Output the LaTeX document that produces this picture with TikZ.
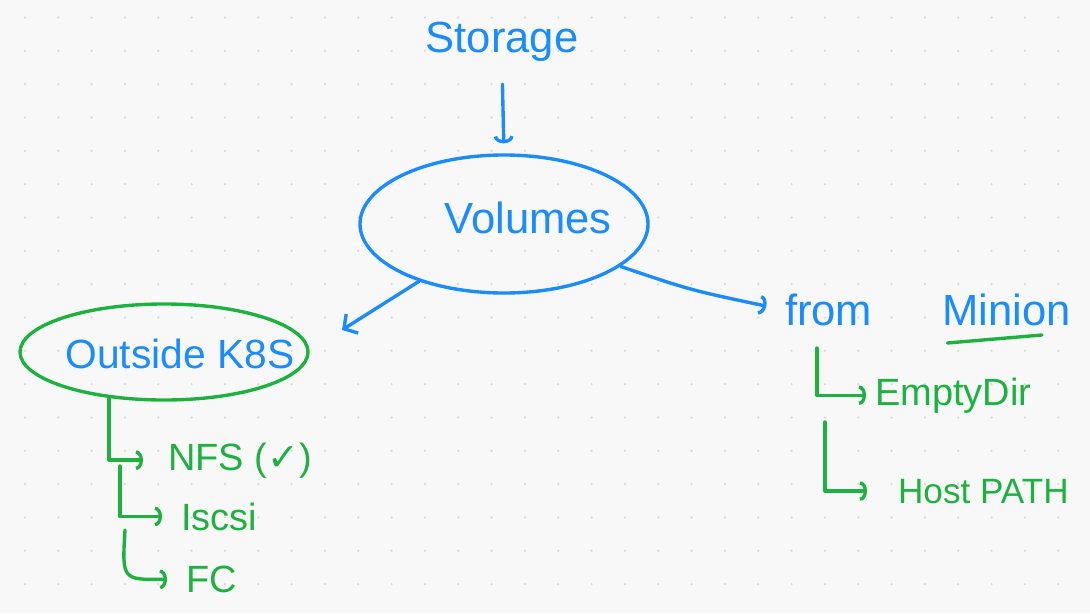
\documentclass[tikz,border=0pt]{standalone}
\usepackage{fontspec}
\setmainfont{Liberation Sans}
\newfontfamily\symfont{DejaVu Sans}
\usetikzlibrary{arrows.meta,positioning,shapes.geometric}
\definecolor{pen}{HTML}{1A8CFF}
\definecolor{leaf}{HTML}{1DB240}
\definecolor{paper}{HTML}{F8F8F8}
\definecolor{griddot}{HTML}{D6D6D6}
\tikzset{
  ink/.style={line width=2.4pt, line cap=round, line join=round},
  blueline/.style={ink, draw=pen},
  greenline/.style={ink, draw=leaf},
  ring/.style={ellipse, inner sep=0pt, ink},
  head/.style={text=pen, font=\fontsize{31}{34}\selectfont, inner sep=2pt},
  item/.style={text=leaf, font=\fontsize{27}{30}\selectfont, inner sep=2pt, anchor=base west},
  barb/.style={-{Straight Barb[length=7pt, width=16pt]}},
  hook/.style={-{Arc Barb[length=5pt, width=14pt]}},
}
\begin{document}
\begin{tikzpicture}[x=0.25mm, y=-0.25mm]
  % paper and dot grid
  \fill[paper] (0,0) rectangle (1090,613);
  \useasboundingbox (0,0) rectangle (1090,613);
  \foreach \i in {0,...,31}
    \foreach \j in {0,...,17}
      \fill[griddot] (25+33.33*\i, 17.5+33.33*\j) circle (0.3mm);

  % top
  \node[head, anchor=base] (storage) at (502,52) {Storage};
  \node[ring, draw=pen, minimum width=72mm, minimum height=34.5mm] (volring) at (504,224) {};
  \node[head, anchor=base] (volumes) at (528,233) {Volumes};
  \draw[blueline, hook, shorten <=5mm, shorten >=2.5mm] (storage.south) -- (volring.north);

  % left branch
  \node[ring, draw=leaf, minimum width=72mm, minimum height=24mm] (outring) at (164,352) {};
  \node[head, anchor=base, font=\fontsize{29}{32}\selectfont] (outside) at (180,368) {Outside K8S};
  \coordinate (volleft) at (342,330);
  \draw[blueline, barb] (volring.214) -- (volleft);

  \node[item] (nfs) at (165,470) {NFS ({\symfont ✓})};
  \node[item] (iscsi) at (178,530) {Iscsi};
  \node[item] (fc) at (183,592) {FC};
  \coordinate (iscsiroot) at (120,466);
  \coordinate (fcroot) at (125,530);
  \draw[greenline, hook, shorten >=5.5mm] (outring.220) |- (nfs.west);
  \draw[greenline, hook, shorten >=4mm] (iscsiroot) |- (iscsi.west);
  \draw[greenline, hook, shorten >=4mm] (fcroot) .. controls (122,580) .. (fc.west);

  % right branch
  \node[head, anchor=base west] (from) at (782,325) {from};
  \node[head, base right=16mm of from] (minion) {Minion};
  \draw[greenline] ([xshift=2mm, yshift=-4.5mm]minion.base west) -- ([xshift=-8mm, yshift=-2.5mm]minion.base east);
  \draw[blueline, hook, shorten >=4mm] (volring.-20) .. controls (690,290) .. (from.west);

  \node[item] (emptydir) at (872,405) {EmptyDir};
  \node[item, font=\fontsize{25}{28}\selectfont] (hostpath) at (895,503) {Host PATH};
  \coordinate (emptyroot) at (817,348);
  \coordinate (hostroot) at (825,422);
  \draw[greenline, hook, shorten >=1.5mm] (emptyroot) |- (emptydir.west);
  \draw[greenline, hook, shorten >=7mm] (hostroot) |- (hostpath.west);
\end{tikzpicture}
\end{document}
